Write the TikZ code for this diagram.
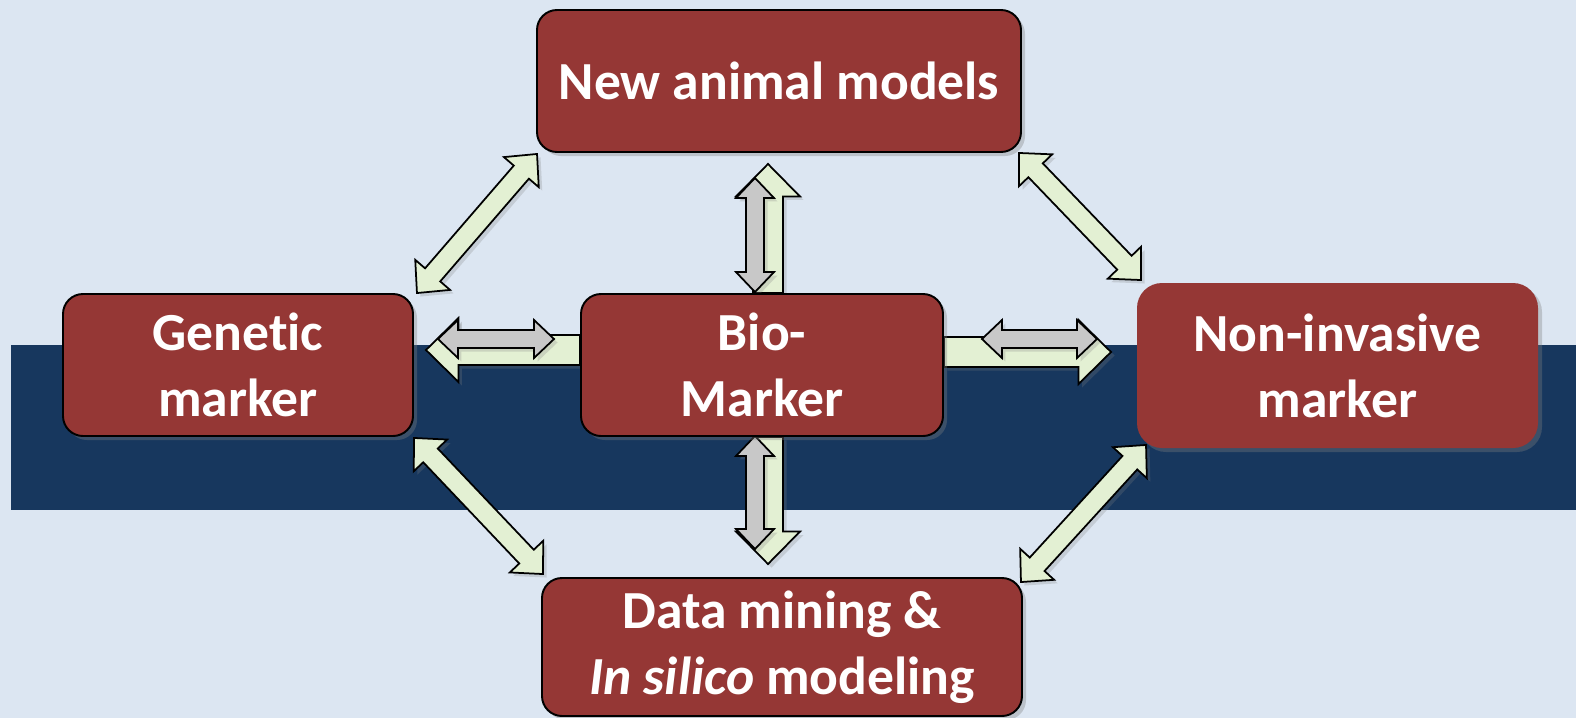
\documentclass[tikz,border=0pt]{standalone}
\usepackage{fontspec}
\setmainfont{Carlito}[Ligatures={NoCommon}]
\usepackage{xcolor}
\usetikzlibrary{calc,positioning,backgrounds,shadows}

\definecolor{bgblue}{HTML}{DCE6F2}
\definecolor{bandblue}{HTML}{17375E}
\definecolor{boxred}{HTML}{953735}
\definecolor{arrgreen}{HTML}{E3F0D3}
\definecolor{arrgrey}{HTML}{C8C8C8}

\begin{document}
\begin{tikzpicture}[
    % GLOBAL CFG
    x=0.2mm, y=-0.2mm,
    % Styles
    box/.style={% For the red boxes
        rectangle,
        rounded corners=4mm,
        fill=boxred,
        draw=black,
        line width=1.1pt,
        text=white,
        align=center,
        inner sep=0pt,
        minimum height=28.4mm,
        font=\fontsize{30.5}{37.5}\selectfont\bfseries,
        drop shadow={shadow xshift=0.8mm, shadow yshift=-0.8mm, opacity=0.35},
        },
    fatdouble/.style n args={3}{% Block arrow, two heads: shaft half, head half, head length
        draw=black,
        line width=1pt,
        drop shadow={shadow xshift=0.7mm, shadow yshift=-0.7mm, opacity=0.25},
        to path={
            (\tikztostart)
            -- ($(\tikztostart)!#3!(\tikztotarget)!#2!90:(\tikztotarget)$)
            -- ($(\tikztostart)!#3!(\tikztotarget)!#1!90:(\tikztotarget)$)
            -- ($(\tikztotarget)!#3!(\tikztostart)!#1!-90:(\tikztostart)$)
            -- ($(\tikztotarget)!#3!(\tikztostart)!#2!-90:(\tikztostart)$)
            -- (\tikztotarget)
            -- ($(\tikztotarget)!#3!(\tikztostart)!#2!90:(\tikztostart)$)
            -- ($(\tikztotarget)!#3!(\tikztostart)!#1!90:(\tikztostart)$)
            -- ($(\tikztostart)!#3!(\tikztotarget)!#1!-90:(\tikztotarget)$)
            -- ($(\tikztostart)!#3!(\tikztotarget)!#2!-90:(\tikztotarget)$)
            -- cycle
        }},
    fatsingle/.style n args={3}{% Block arrow, one head: shaft half, head half, head length
        draw=black,
        line width=1pt,
        drop shadow={shadow xshift=0.7mm, shadow yshift=-0.7mm, opacity=0.25},
        to path={
            ($(\tikztostart)!#1!90:(\tikztotarget)$)
            -- ($(\tikztotarget)!#3!(\tikztostart)!#1!-90:(\tikztostart)$)
            -- ($(\tikztotarget)!#3!(\tikztostart)!#2!-90:(\tikztostart)$)
            -- (\tikztotarget)
            -- ($(\tikztotarget)!#3!(\tikztostart)!#2!90:(\tikztostart)$)
            -- ($(\tikztotarget)!#3!(\tikztostart)!#1!90:(\tikztostart)$)
            -- ($(\tikztostart)!#1!-90:(\tikztotarget)$)
            -- cycle
        }},
    greenbig/.style={fatsingle={3mm}{6.4mm}{6.5mm}, fill=arrgreen},% Out of the Bio-Marker
    greyduo/.style={fatdouble={1.8mm}{3.8mm}{4mm}, fill=arrgrey},% Over the green ones
    greendiag/.style={fatdouble={2mm}{4.6mm}{4.8mm}, fill=arrgreen},% Round the ring
    ]

    \useasboundingbox (0,0) rectangle (1576,718);

    % The boxes
    \node[box, minimum width=96.8mm] (newmodels) at (779,81) {New animal models};
    \node[box, minimum width=70mm] (genetic) at (238,365) {Genetic\\marker};
    \node[box, minimum width=72.4mm] (bio) at (762,365) {Bio-\\Marker};
    \node[box, draw=none, rounded corners=5mm, minimum width=80.2mm, minimum height=33mm] (noninv) at (1337.5,365.5) {Non-invasive\\marker};
    \node[box, minimum width=96mm, minimum height=27.6mm] (datamining) at (782,647) {Data mining \&\\\textit{In silico} modeling};

    \begin{scope}[on background layer]
    % Backdrop and band
    \fill[bgblue] (0,0) rectangle (1576,718);
    \fill[bandblue] (11,345) rectangle (1576,510);

    % Ends of the arrows
    \coordinate (upS) at ($(bio.north)+(6,0)$);
    \coordinate (upT) at ($(newmodels.south)+(-11,11)$);
    \coordinate (upA) at ($(bio.north)+(-7,-1)$);
    \coordinate (upB) at ($(newmodels.south)+(-24,25)$);
    \coordinate (dnS) at ($(bio.south)+(6,0)$);
    \coordinate (dnT) at ($(datamining.north)+(-14,-13)$);
    \coordinate (dnA) at ($(bio.south)+(-7,-1)$);
    \coordinate (dnB) at ($(datamining.north)+(-27,-28)$);
    \coordinate (ltS) at ($(bio.west)+(0,-15)$);
    \coordinate (ltT) at ($(genetic.east)+(12,-15)$);
    \coordinate (ltA) at ($(genetic.east)+(24,-26)$);
    \coordinate (ltB) at ($(bio.west)+(-26,-26)$);
    \coordinate (rtS) at ($(bio.east)+(0,-13)$);
    \coordinate (rtT) at ($(noninv.west)+(-25,-13.5)$);
    \coordinate (rtA) at ($(bio.east)+(38,-26)$);
    \coordinate (rtB) at ($(noninv.west)+(-39,-26.5)$);

    % Green arrows out of the Bio-Marker, grey ones on top
    \draw[greenbig] (upS) to (upT);
    \draw[greenbig] (dnS) to (dnT);
    \draw[greenbig] (ltS) to (ltT);
    \draw[greenbig] (rtS) to (rtT);
    \draw[greyduo] (upA) to (upB);
    \draw[greyduo] (dnA) to (dnB);
    \draw[greyduo] (ltA) to (ltB);
    \draw[greyduo] (rtA) to (rtB);

    % Ring round the outside
    \draw[greendiag] ($(genetic.north east)+(3,0)$) to ($(newmodels.south west)+(1,1)$);
    \draw[greendiag] ($(newmodels.south east)+(-3,0)$) to ($(noninv.north west)+(5,-2)$);
    \draw[greendiag] ($(genetic.south east)+(0,1)$) to ($(datamining.north west)+(2,-3)$);
    \draw[greendiag] ($(datamining.north east)+(-2,5)$) to ($(noninv.south west)+(10,-4)$);
    \end{scope}

\end{tikzpicture}
\end{document}
